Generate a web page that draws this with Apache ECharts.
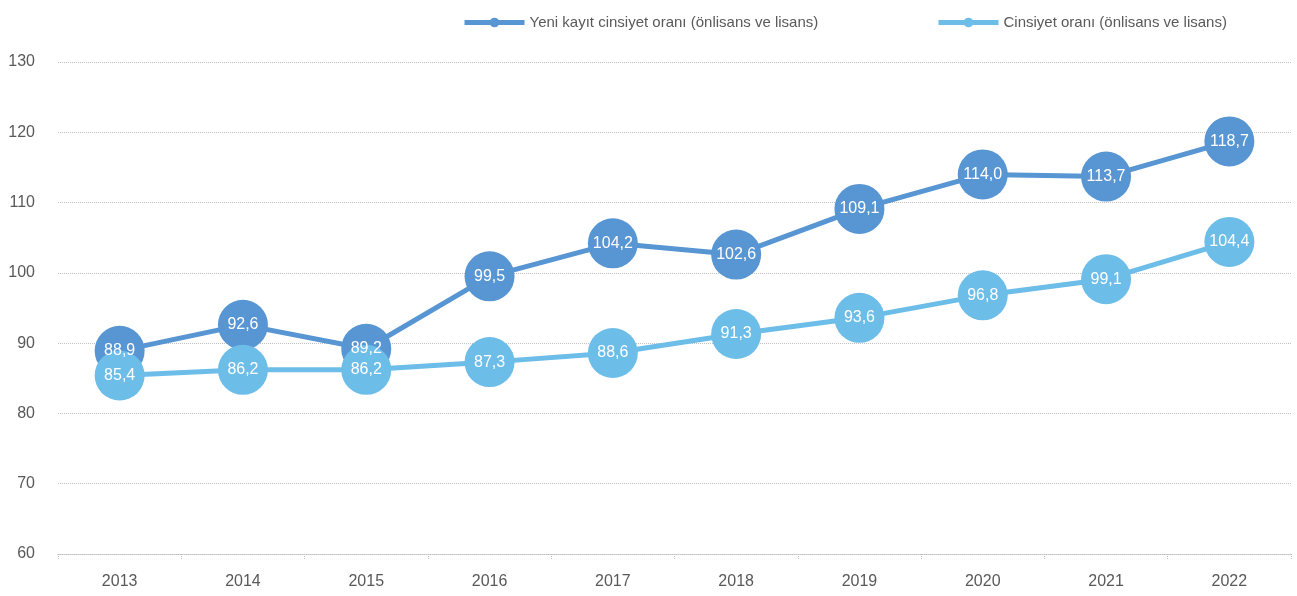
<!DOCTYPE html>
<html>
<head>
<meta charset="utf-8">
<script src="https://cdn.jsdelivr.net/npm/echarts@6/dist/echarts.min.js"></script>
<style>
html, body { margin: 0; padding: 0; background: #fff; }
#chart { width: 1297px; height: 596px; }
</style>
</head>
<body>
<div id="chart"></div>
<script>
var years = ['2013', '2014', '2015', '2016', '2017', '2018', '2019', '2020', '2021', '2022'];
var yeniKayit = [88.9, 92.6, 89.2, 99.5, 104.2, 102.6, 109.1, 114.0, 113.7, 118.7];
var cinsiyet = [85.4, 86.2, 86.2, 87.3, 88.6, 91.3, 93.6, 96.8, 99.1, 104.4];
var seriesNames = ['Yeni kayıt cinsiyet oranı (önlisans ve lisans)', 'Cinsiyet oranı (önlisans ve lisans)'];

var fontFam = "'Liberation Sans', Arial, sans-serif";

function fmt(p) {
	return p.value.toFixed(1).replace('.', ',');
}

function makeSeries(name, data, color) {
	return {
		name: name,
		type: 'line',
		data: data,
		symbol: 'circle',
		symbolSize: 50,
		lineStyle: { color: color, width: 5 },
		itemStyle: { color: color },
		label: {
			show: true,
			position: 'inside',
			formatter: fmt,
			color: '#fff',
			fontSize: 16,
			fontFamily: fontFam
		},
		emphasis: { disabled: true },
		animation: false
	};
}

// legend shared look
function makeLegend(name, left) {
	return {
		top: 10,
		left: left,
		width: 400,
		itemWidth: 60,
		itemHeight: 12,
		lineStyle: { width: 5 },
		textStyle: { color: '#595959', fontSize: 15, fontFamily: fontFam },
		data: [name]
	};
}

var chart = echarts.init(document.getElementById('chart'));
var option = {
	backgroundColor: '#fff',
	textStyle: { fontFamily: fontFam },
	legend: [
		makeLegend(seriesNames[0], 457),
		makeLegend(seriesNames[1], 931)
	],
	grid: {
		left: 58,
		right: 6,
		top: 62,
		bottom: 42,
		containLabel: false
	},
	xAxis: {
		type: 'category',
		data: years,
		boundaryGap: true,
		axisLine: { show: true, lineStyle: { color: '#bfbfbf', type: 'dotted', width: 1 } },
		axisTick: { show: true, length: 5, lineStyle: { color: '#bfbfbf', type: 'dotted' } },
		axisLabel: { color: '#595959', fontSize: 16, margin: 20, fontFamily: fontFam }
	},
	yAxis: {
		type: 'value',
		min: 60,
		max: 130,
		interval: 10,
		axisLine: { show: false },
		axisTick: { show: false },
		axisLabel: { color: '#595959', fontSize: 16, margin: 23, fontFamily: fontFam },
		splitLine: { show: true, lineStyle: { color: '#bfbfbf', type: 'dotted', width: 1 } }
	},
	series: [
		makeSeries(seriesNames[0], yeniKayit, '#5795d3'),
		makeSeries(seriesNames[1], cinsiyet, '#6dbde9')
	]
};
chart.setOption(option);
</script>
</body>
</html>
